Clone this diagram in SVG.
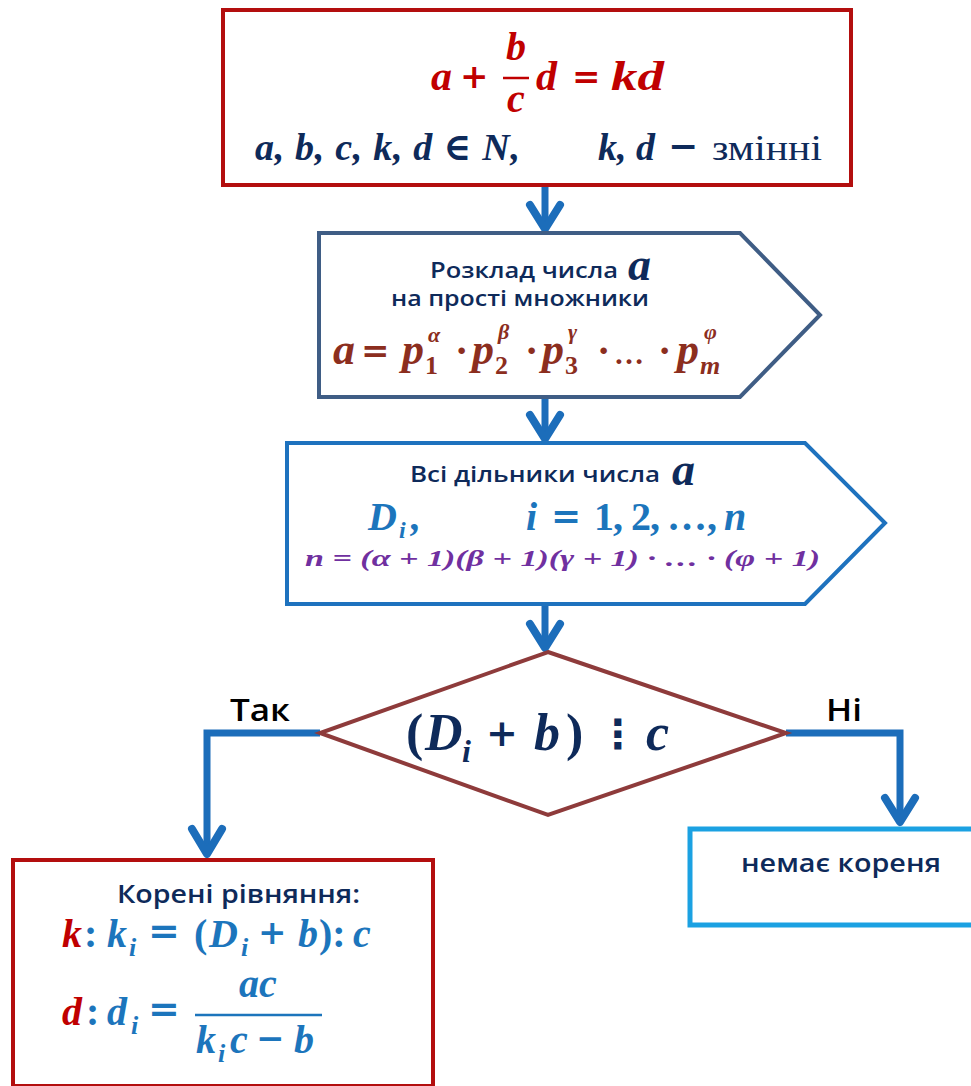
<svg xmlns="http://www.w3.org/2000/svg" width="971" height="1086" viewBox="0 0 971 1086">
<style>
.m{font-family:"Liberation Serif","DejaVu Serif",serif;font-weight:bold;font-style:italic}
.u{font-family:"Liberation Serif","DejaVu Serif",serif;font-weight:bold;font-style:normal}
.op{font-family:"DejaVu Serif",serif;font-weight:bold;font-style:normal}
.s{font-family:"Open Sans","Noto Sans","DejaVu Sans",sans-serif;font-weight:600}
.red{fill:#C00000}.navy{fill:#0E2A5A}.brown{fill:#8C2E1E}.blue{fill:#1C75BC}.purple{fill:#7030A0}.blk{fill:#000}
.conn{fill:none;stroke:#1C6DBA;stroke-width:7;stroke-linejoin:miter}
.head{fill:none;stroke:#1C6DBA;stroke-width:8;stroke-linecap:round;stroke-linejoin:round}
</style>
<rect width="971" height="1086" fill="#fff"/>
<g id="connectors">
<line class="conn" x1="545" y1="187" x2="545" y2="229"/>
<polyline class="head" points="530,205 545,229 560,205"/>
<line class="conn" x1="545" y1="399" x2="545" y2="439"/>
<polyline class="head" points="530,415 545,439 560,415"/>
<line class="conn" x1="545" y1="606" x2="545" y2="648"/>
<polyline class="head" points="530,624 545,648 560,624"/>
<polyline class="conn" points="320,733 207,733 207,854"/>
<polyline class="head" points="192,829 207,854 222,829"/>
<polyline class="conn" points="786,733 900,733 900,822"/>
<polyline class="head" points="885,798 900,822 915,798"/>
</g>
<g id="n1">
<rect x="223" y="10" width="628" height="175" fill="#fff" stroke="#B30E0E" stroke-width="4"/>
<g class="red" font-size="42">
<text class="m" x="431" y="90">a</text>
<text class="op" x="460" y="88" font-size="34">+</text>
<text class="m" x="516" y="60" text-anchor="middle" font-size="40">b</text>
<line x1="503" y1="78" x2="529" y2="78" stroke="#C00000" stroke-width="2.5"/>
<text class="m" x="516" y="112" text-anchor="middle" font-size="40">c</text>
<text class="m" x="536" y="90">d</text>
<text class="op" x="572" y="88" font-size="34">=</text>
<text class="m" x="611" y="90" textLength="53" lengthAdjust="spacingAndGlyphs">kd</text>
</g>
<g class="navy">
<text class="m" font-size="38" x="255" y="160" textLength="265" lengthAdjust="spacing">a, b, c, k, d ∈ N,</text>
<text class="m" font-size="38" x="598" y="160">k, d</text>
<text class="op" font-size="36" x="668" y="158">−</text>
<text font-family="Liberation Serif,serif" font-size="36" x="712" y="160" textLength="110" lengthAdjust="spacingAndGlyphs">змінні</text>
</g>
</g>
<g id="n2">
<polygon points="319,233 740,233 820,315 740,397 319,397" fill="#fff" stroke="#3F5D85" stroke-width="4"/>
<text class="s navy" font-size="22" x="430" y="278" textLength="188" lengthAdjust="spacingAndGlyphs">Розклад числа</text>
<text class="m navy" font-size="46" x="628" y="280">a</text>
<text class="s navy" font-size="22" x="391" y="306" textLength="258" lengthAdjust="spacingAndGlyphs">на прості множники</text>
<g class="brown" font-size="44">
<text class="m" x="333" y="364">a</text>
<text class="op" x="361" y="362" font-size="34">=</text>
<text class="m" x="402" y="364">p</text>
<text class="u" x="425" y="374" font-size="26">1</text>
<text class="m" x="428" y="342" font-size="22">α</text>
<text class="u" x="455" y="364" font-size="40">·</text>
<text class="m" x="472" y="364">p</text>
<text class="u" x="495" y="374" font-size="26">2</text>
<text class="m" x="498" y="339" font-size="22">β</text>
<text class="u" x="525" y="364" font-size="40">·</text>
<text class="m" x="542" y="364">p</text>
<text class="u" x="565" y="374" font-size="26">3</text>
<text class="m" x="568" y="339" font-size="22">γ</text>
<text class="u" x="597" y="364" font-size="40">·</text>
<text class="u" x="614" y="364" font-size="30">…</text>
<text class="u" x="658" y="364" font-size="40">·</text>
<text class="m" x="677" y="364">p</text>
<text class="m" x="700" y="374" font-size="26">m</text>
<text class="m" x="704" y="339" font-size="22">φ</text>
</g>
</g>
<g id="n3">
<polygon points="287,443 805,443 885,523 805,604 287,604" fill="#fff" stroke="#1E72BE" stroke-width="4"/>
<text class="s navy" font-size="22" x="410" y="482" textLength="250" lengthAdjust="spacingAndGlyphs">Всі дільники  числа</text>
<text class="m navy" font-size="46" x="672" y="485">a</text>
<g class="blue" font-size="40">
<text class="m" x="368" y="530">D</text>
<text class="m" x="399" y="538" font-size="24">i</text>
<text class="m" x="411" y="530">,</text>
<text class="m" x="526" y="530">i</text>
<text class="op" x="551" y="528" font-size="36">=</text>
<text class="u" x="594" y="530">1</text>
<text class="u" x="613" y="530">,</text>
<text class="u" x="631" y="530">2</text>
<text class="u" x="650" y="530">,</text>
<text class="u" x="667" y="530">…</text>
<text class="u" x="707" y="530">,</text>
<text class="m" x="724" y="530">n</text>
</g>
<text class="m purple" font-size="24" x="305" y="566" textLength="515" lengthAdjust="spacingAndGlyphs">n = (α + 1)(β + 1)(γ + 1) · … · (φ + 1)</text>
</g>
<g id="n4">
<polygon points="548,652 786,733 548,815 320,733" fill="#fff" stroke="#8E3B3B" stroke-width="4"/>
<g class="navy" font-size="52">
<text class="u" x="406" y="750">(</text>
<text class="m" x="425" y="750">D</text>
<text class="m" x="462" y="762" font-size="32">i</text>
<text class="op" x="486" y="746" font-size="38">+</text>
<text class="m" x="534" y="750">b</text>
<text class="u" x="566" y="750">)</text>
<text x="598" y="748" font-family="DejaVu Sans,sans-serif" font-weight="bold" font-size="40">⋮</text>
<text class="m" x="646" y="750">c</text>
</g>
<text class="s blk" font-size="30" x="230" y="721" textLength="60" lengthAdjust="spacingAndGlyphs">Так</text>
<text class="s blk" font-size="30" x="826" y="721" textLength="36" lengthAdjust="spacingAndGlyphs">Ні</text>
</g>
<g id="n5">
<rect x="13" y="860" width="420" height="226" fill="#fff" stroke="#B30E0E" stroke-width="4"/>
<text class="s navy" font-size="25" x="117" y="903" textLength="243" lengthAdjust="spacingAndGlyphs">Корені рівняння:</text>
<g font-size="40">
<text class="m red" x="62" y="947">k</text>
<text class="u blue" x="84" y="947">:</text>
<g class="blue">
<text class="m" x="107" y="947">k</text>
<text class="m" x="129" y="956" font-size="26">i</text>
<text class="op" x="148" y="944" font-size="38">=</text>
<text class="u" x="194" y="947">(</text>
<text class="m" x="209" y="947">D</text>
<text class="m" x="241" y="956" font-size="26">i</text>
<text class="op" x="258" y="944" font-size="34">+</text>
<text class="m" x="298" y="947">b</text>
<text class="u" x="319" y="947">):</text>
<text class="m" x="353" y="947">c</text>
</g>
<text class="m red" x="62" y="1025">d</text>
<text class="u blue" x="86" y="1025">:</text>
<g class="blue">
<text class="m" x="107" y="1025">d</text>
<text class="m" x="131" y="1034" font-size="26">i</text>
<text class="op" x="148" y="1022" font-size="38">=</text>
<text class="m" x="258" y="997" text-anchor="middle">ac</text>
<line x1="195" y1="1015" x2="322" y2="1015" stroke="#1C75BC" stroke-width="2.5"/>
<text class="m" x="196" y="1053">k</text>
<text class="m" x="218" y="1062" font-size="26">i</text>
<text class="m" x="230" y="1053">c</text>
<text class="op" x="256" y="1050" font-size="34">−</text>
<text class="m" x="294" y="1053">b</text>
</g>
</g>
</g>
<g id="n6">
<rect x="690" y="829" width="290" height="96" fill="#fff" stroke="#1BA1E2" stroke-width="5"/>
<text class="s navy" font-size="26" x="741" y="872" textLength="200" lengthAdjust="spacingAndGlyphs">немає кореня</text>
</g>
</svg>
